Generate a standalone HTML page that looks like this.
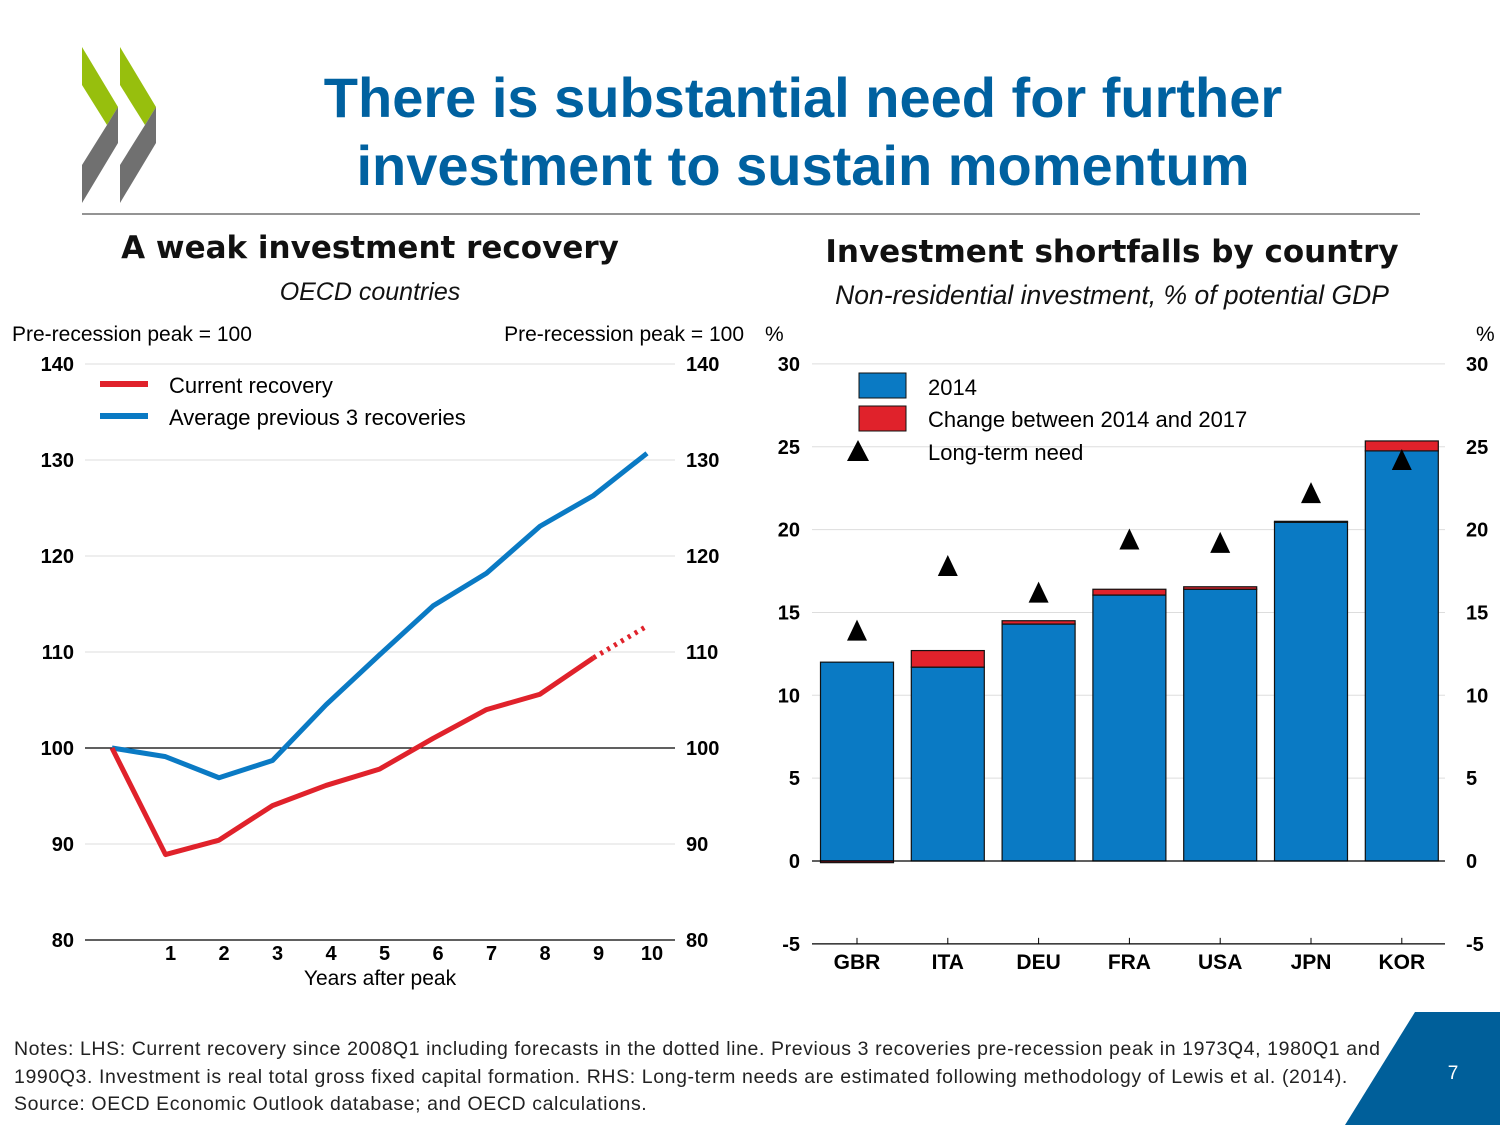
<!DOCTYPE html>
<html><head><meta charset="utf-8"><style>
body{margin:0;background:#fff;}
#root{position:relative;width:1500px;height:1125px;overflow:hidden;font-family:"Liberation Sans",sans-serif;}
.t{position:absolute;white-space:nowrap;}
</style></head><body>
<div id="root">
<svg width="1500" height="1125" style="position:absolute;left:0;top:0">
 <g>
  <polygon points="82,47 118,107 107,125 82,85" fill="#97bf0d"/>
  <polygon points="107,125 118,107 118,143 82,203 82,165" fill="#707070"/>
  <polygon points="120,47 156,107 145,125 120,85" fill="#97bf0d"/>
  <polygon points="145,125 156,107 156,143 120,203 120,165" fill="#707070"/>
 </g>
 <line x1="82" y1="214" x2="1420" y2="214" stroke="#707070" stroke-width="1.5"/>
 <polygon points="1415,1012 1500,1012 1500,1125 1345,1125" fill="#005f9a"/>
 <text x="1453" y="1079" font-family="Liberation Sans" font-size="19" fill="#fff" text-anchor="middle">7</text>
 <g id="left"></g>
 <g id="right"></g>
</svg>
<div class="t" style="left:250px;width:1106px;top:64px;text-align:center;font-weight:bold;font-size:56px;line-height:68px;color:#0061a0;">There is substantial need for further<br>investment to sustain momentum</div>
<div class="t" style="left:70px;width:600px;top:230px;text-align:center;font-weight:bold;font-size:31px;color:#111;font-family:'DejaVu Sans',sans-serif;">A weak investment recovery</div>
<div class="t" style="left:70px;width:600px;top:278px;text-align:center;font-style:italic;font-size:25px;color:#111;">OECD countries</div>
<div class="t" style="left:812px;width:600px;top:234px;text-align:center;font-weight:bold;font-size:31px;color:#111;font-family:'DejaVu Sans',sans-serif;">Investment shortfalls by country</div>
<div class="t" style="left:812px;width:600px;top:280px;text-align:center;font-style:italic;font-size:26.5px;color:#111;">Non-residential investment, % of potential GDP</div>
<div class="t" style="left:14px;top:1036px;font-size:19.5px;line-height:27.5px;color:#222;letter-spacing:0.6px;">Notes: LHS: Current recovery since 2008Q1 including forecasts in the dotted line. Previous 3 recoveries pre-recession peak in 1973Q4, 1980Q1 and<br>1990Q3. Investment is real total gross fixed capital formation. RHS: Long-term needs are estimated following methodology of Lewis et al. (2014).<br>Source: OECD Economic Outlook database; and OECD calculations.</div>
</div>
<script>
// Left chart data
const years=[0,1,2,3,4,5,6,7,8,9,10];
const currentRecovery=[100,88.9,90.4,94.0,96.1,97.8,101.0,104.0,105.6,109.4,112.7];
const previousAverage=[100,99.1,96.9,98.7,104.5,109.7,114.8,118.2,123.1,126.3,130.7];
const leftTicks=[80,90,100,110,120,130,140];
const xTickLabels=['1','2','3','4','5','6','7','8','9','10'];
// Right chart data
const countries=['GBR','ITA','DEU','FRA','USA','JPN','KOR'];
const inv2014=[12.0,11.7,14.3,16.05,16.4,20.45,24.75];
const change2017=[-0.1,1.0,0.2,0.35,0.15,0.05,0.6];
const longTermNeed=[13.9,17.8,16.2,19.4,19.2,22.2,24.2];
const rightTicks=[-5,0,5,10,15,20,25,30];

const NS='http://www.w3.org/2000/svg';
function mk(p,tag,a,txt){const e=document.createElementNS(NS,tag);for(const k in a)e.setAttribute(k,a[k]);if(txt!==undefined)e.textContent=txt;p.appendChild(e);return e;}
const F='Liberation Sans';
// LEFT
const L=document.getElementById('left');
const lx=v=>112+v*53.5, ly=v=>940-(v-80)*9.6;
leftTicks.forEach(v=>{
 const g=mk(L,'line',{x1:85,x2:675,y1:ly(v),y2:ly(v),stroke:v==100?'#000':(v==80?'#000':'#ddd'),'stroke-width':v==100||v==80?1.3:1});
 
 const a=mk(L,'text',{x:74,y:ly(v)+7,'text-anchor':'end','font-family':F,'font-size':20,'font-weight':'bold'},v);
 
 const b=mk(L,'text',{x:686,y:ly(v)+7,'font-family':F,'font-size':20,'font-weight':'bold'},v);
 
});
xTickLabels.forEach((s,i)=>{const t=mk(L,'text',{x:lx(i+1)+5,y:960,'text-anchor':'middle','font-family':F,'font-size':20,'font-weight':'bold'},s);
 });
let t=mk(L,'text',{x:380,y:985,'text-anchor':'middle','font-family':F,'font-size':21},'Years after peak');
t=mk(L,'text',{x:12,y:341,'font-family':F,'font-size':21},'Pre-recession peak = 100');
t=mk(L,'text',{x:744,y:341,'text-anchor':'end','font-family':F,'font-size':21},'Pre-recession peak = 100');
const pts=(arr,a,b)=>arr.slice(a,b).map((v,i)=>lx(years[a+i])+','+ly(v)).join(' ');
let p=mk(L,'polyline',{points:pts(previousAverage,0,11),fill:'none',stroke:'#0a7ac4','stroke-width':5,'stroke-linejoin':'round'});
p=mk(L,'polyline',{points:pts(currentRecovery,0,10),fill:'none',stroke:'#e0222b','stroke-width':5,'stroke-linejoin':'round'});
p=mk(L,'polyline',{points:pts(currentRecovery,9,11),fill:'none',stroke:'#e0222b','stroke-width':5,'stroke-dasharray':'3 5'});
p=mk(L,'line',{x1:100,x2:148,y1:384,y2:384,stroke:'#e0222b','stroke-width':6});
p=mk(L,'line',{x1:100,x2:148,y1:416,y2:416,stroke:'#0a7ac4','stroke-width':6});
t=mk(L,'text',{x:169,y:393,'font-family':F,'font-size':22},'Current recovery');
t=mk(L,'text',{x:169,y:425,'font-family':F,'font-size':22},'Average previous 3 recoveries');
// RIGHT
const R=document.getElementById('right');
const ry=v=>861-v*16.57, rx=i=>857+i*90.8, bw=73;
rightTicks.forEach(v=>{
 if(v>0){const g=mk(R,'line',{x1:812,x2:1445,y1:ry(v),y2:ry(v),stroke:'#ddd','stroke-width':1});}
 const a=mk(R,'text',{x:800,y:ry(v)+7,'text-anchor':'end','font-family':F,'font-size':20,'font-weight':'bold'},v);
 const b=mk(R,'text',{x:1466,y:ry(v)+7,'font-family':F,'font-size':20,'font-weight':'bold'},v);
});
t=mk(R,'text',{x:765,y:341,'font-family':F,'font-size':21},'%');
t=mk(R,'text',{x:1476,y:341,'font-family':F,'font-size':21},'%');
countries.forEach((c,i)=>{
 const x=rx(i)-bw/2;
 const b=mk(R,'rect',{x:x,y:Math.min(ry(inv2014[i]),ry(0)),width:bw,height:Math.abs(ry(0)-ry(inv2014[i])),fill:'#0a7ac4',stroke:'#111','stroke-width':1.2});
 
 const ch=change2017[i];
 const y0=ch>=0?ry(inv2014[i]+ch):ry(0), h=ch>=0?ry(inv2014[i])-ry(inv2014[i]+ch):ry(ch)-ry(0);
 const r=mk(R,'rect',{x:x,y:y0,width:bw,height:Math.max(h,1),fill:'#e0222b',stroke:'#111','stroke-width':1.2});
 
 const ty=ry(longTermNeed[i]), cx=rx(i);
 const tr=mk(R,'polygon',{points:`${cx},${ty-11} ${cx-10},${ty+10} ${cx+10},${ty+10}`,fill:'#000'});
 
 const tk=mk(R,'line',{x1:cx,x2:cx,y1:ry(-5),y2:ry(-5)-6,stroke:'#000'});
 const lb=mk(R,'text',{x:cx,y:969,'text-anchor':'middle','font-family':F,'font-size':21,'font-weight':'bold'},c);
});
p=mk(R,'line',{x1:812,x2:1445,y1:ry(0),y2:ry(0),stroke:'#000','stroke-width':1.3});
p=mk(R,'line',{x1:812,x2:1445,y1:ry(-5),y2:ry(-5),stroke:'#000','stroke-width':1.3});
p=mk(R,'rect',{x:859,y:373,width:47,height:25,fill:'#0a7ac4',stroke:'#111'});
p=mk(R,'rect',{x:859,y:406,width:47,height:25,fill:'#e0222b',stroke:'#111'});
p=mk(R,'polygon',{points:'858,440 847,461 869,461',fill:'#000'});
t=mk(R,'text',{x:928,y:395,'font-family':F,'font-size':22},'2014');
t=mk(R,'text',{x:928,y:427,'font-family':F,'font-size':22},'Change between 2014 and 2017');
t=mk(R,'text',{x:928,y:460,'font-family':F,'font-size':22},'Long-term need');
</script>
</body></html>
